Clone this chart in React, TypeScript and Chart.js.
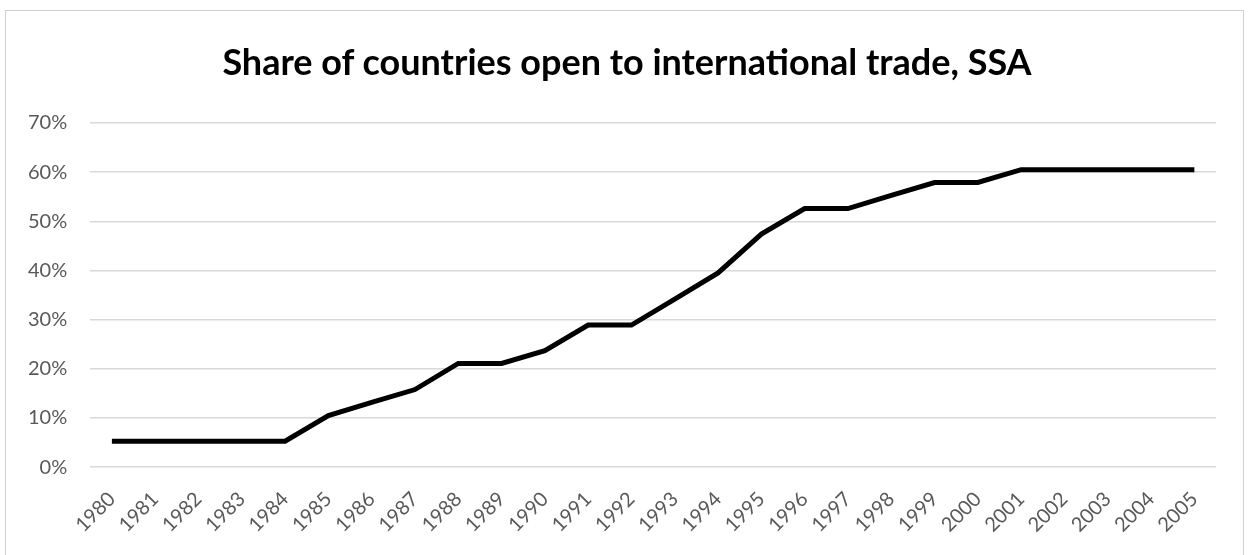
import React, { useEffect, useRef } from "react";
import { Chart, registerables } from "chart.js";

Chart.register(...registerables);

const years = ["1980","1981","1982","1983","1984","1985","1986","1987","1988","1989","1990","1991","1992","1993","1994","1995","1996","1997","1998","1999","2000","2001","2002","2003","2004","2005"];
const shareOpen = [5.3,5.3,5.3,5.3,5.3,10.5,13.2,15.8,21.1,21.1,23.7,28.9,28.9,34.2,39.5,47.4,52.6,52.6,55.3,57.9,57.9,60.5,60.5,60.5,60.5,60.5];
const titleText = "Share of countries open to international trade, SSA";

export default function App() {
  const ref = useRef<HTMLCanvasElement | null>(null);
  useEffect(() => {
    if (!ref.current) return;
    const chart = new Chart(ref.current, {
      type: "line",
      data: {
        labels: years,
        datasets: [{
          data: shareOpen,
          borderColor: "#000000",
          borderWidth: 5,
          pointRadius: 0,
          tension: 0,
          fill: false,
        }],
      },
      options: {
        animation: false,
        responsive: false,
        layout: { padding: { left: 5, right: 33, top: 123, bottom: 0 } },
        plugins: {
          legend: { display: false },
          tooltip: { enabled: false },
          title: { display: false },
        },
        scales: {
          x: {
            offset: true,
            grid: { display: false, drawTicks: false },
            border: { display: false },
            ticks: {
              color: "#595959",
              font: { family: "Lato", size: 20 },
              minRotation: 45,
              maxRotation: 45,
              autoSkip: false,
              padding: 20,
            },
          },
          y: {
            min: 0,
            max: 70,
            grid: { color: "#d9d9d9", lineWidth: 1.5, drawTicks: false },
            border: { display: false },
            ticks: {
              stepSize: 10,
              color: "#595959",
              font: { family: "Lato", size: 20 },
              padding: 23,
              callback: (v: any) => v + "%",
            },
          },
        },
      },
    });
    return () => chart.destroy();
  }, []);
  return (
    <div style={{ position: "fixed", left: 0, top: 0, width: 1249, height: 555, background: "#fff", overflow: "hidden" }}>
      <div style={{ position: "absolute", left: 5, top: 10, width: 1239, height: 560, border: "1px solid #d0d0d0", boxSizing: "border-box" }} />
      <canvas ref={ref} width={1249} height={557} style={{ position: "absolute", left: 0, top: 0 }} />
      <div style={{ position: "absolute", left: 127, width: 1000, top: 43, textAlign: "center", fontFamily: "Lato", fontWeight: "bold", fontSize: 36, lineHeight: "36px", color: "#000", whiteSpace: "nowrap" }}>
        {titleText}
      </div>
    </div>
  );
}
